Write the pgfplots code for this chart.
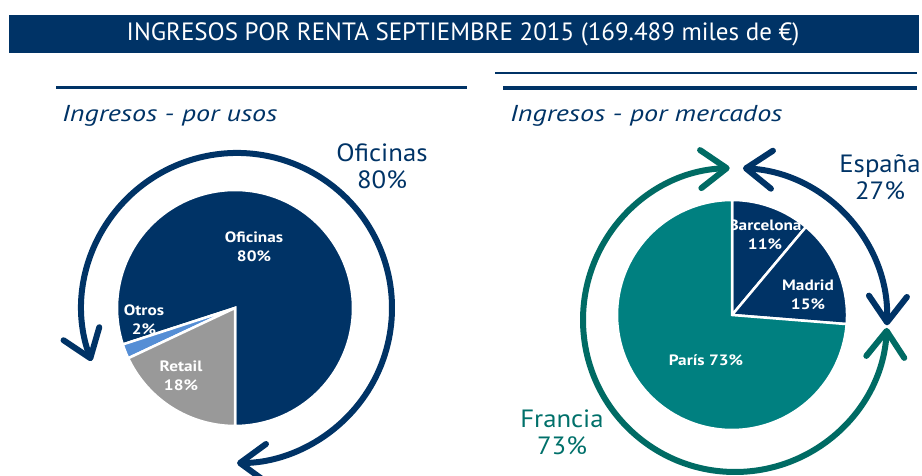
\documentclass[border=0pt]{standalone}
\usepackage{pgfplots}
\pgfplotsset{compat=1.18}
\usepackage{fontspec}
\setmainfont{PT Sans}
\newfontfamily\wide[FakeStretch=1.15]{PT Sans}
\newfontfamily\midfont[FakeStretch=1.07]{PT Sans}
\newfontfamily\wider[FakeStretch=1.22]{PT Sans}
\usetikzlibrary{arrows.meta}
\definecolor{navy}{RGB}{0,51,102}
\definecolor{tealpie}{RGB}{0,128,128}
\definecolor{tealarr}{RGB}{0,107,100}
\definecolor{tealtxt}{RGB}{0,112,106}
\definecolor{grayret}{RGB}{153,153,153}
\definecolor{otros}{RGB}{85,142,213}
\tikzset{barb/.tip={Straight Barb[length=26bp,width=38bp,line cap=round,line join=round]}}
\begin{document}
\begin{tikzpicture}[x=1bp,y=1bp]
\useasboundingbox (0,0) rectangle (922,476);
\begin{axis}[at={(0,0)}, anchor=south west, width=922bp, height=476bp,
  scale only axis, xmin=0, xmax=922, ymin=0, ymax=476, hide axis, clip=false]
% header
\fill[navy] (9,423) rectangle (919,461);
\node[white, font=\fontsize{25bp}{28bp}\selectfont] at (463,442) {INGRESOS POR RENTA SEPTIEMBRE 2015 (169.489 miles de €)};
% rules
\draw[navy, line width=3bp] (56,388) -- (467,388);
\draw[navy, line width=1.2bp] (495,403) -- (917,403);
\draw[navy, line width=3.5bp] (503,388) -- (917,388);
% subtitles
\node[navy, anchor=base west, inner sep=0pt, font=\wider\itshape\fontsize{23bp}{27bp}\selectfont] at (62,354) {Ingresos - por usos};
\node[navy, anchor=base west, inner sep=0pt, font=\wider\itshape\fontsize{23bp}{27bp}\selectfont] at (510,354) {Ingresos - por mercados};

% ---- left pie: Oficinas 80, Otros 2, Retail 18 (percent) ----
\addplot[fill=navy, draw=white, line width=2.5bp, domain={-90}:{-90+3.6*80}, samples=120, variable=\t]
  ({235+118*cos(\t)},{168+118*sin(\t)}) -- (235,168) -- cycle;
\addplot[fill=otros, draw=white, line width=2.5bp, domain={-90+3.6*80}:{-90+3.6*82}, samples=10, variable=\t]
  ({235+118*cos(\t)},{168+118*sin(\t)}) -- (235,168) -- cycle;
\addplot[fill=grayret, draw=white, line width=2.5bp, domain={-90+3.6*82}:{-90+3.6*100}, samples=40, variable=\t]
  ({235+118*cos(\t)},{168+118*sin(\t)}) -- (235,168) -- cycle;
\node[white, align=center, font=\wide\bfseries\fontsize{15bp}{19bp}\selectfont] at (254,229) {Oficinas\\80\%};
\node[white, align=center, font=\wide\bfseries\fontsize{15bp}{19bp}\selectfont] at (144,156) {Otros\\2\%};
\node[white, align=center, font=\wide\bfseries\fontsize{15bp}{19bp}\selectfont] at (181,100) {Retail\\18\%};
\draw[navy, line width=6bp, barb-barb] (237,168) ++(200:155) arc[start angle=200, end angle=-90, radius=155];
\node[navy, align=center, font=\midfont\fontsize{25bp}{27bp}\selectfont] at (382,310) {Oficinas\\80\%};

% ---- right pie: Barcelona 11, Madrid 15, Paris 73 (percent) ----
\addplot[fill=navy, draw=white, line width=2.5bp, domain={90-360*11/99}:{90}, samples=30, variable=\t]
  ({732+115*cos(\t)},{161+115*sin(\t)}) -- (732,161) -- cycle;
\addplot[fill=navy, draw=white, line width=2.5bp, domain={90-360*26/99}:{90-360*11/99}, samples=30, variable=\t]
  ({732+115*cos(\t)},{161+115*sin(\t)}) -- (732,161) -- cycle;
\node[white, align=center, font=\wide\bfseries\fontsize{15bp}{19bp}\selectfont] at (765,241) {Barcelona\\11\%};
\node[white, align=center, font=\wide\bfseries\fontsize{15bp}{19bp}\selectfont] at (808,181) {Madrid\\15\%};
\addplot[fill=tealpie, draw=white, line width=2.5bp, domain={-270}:{90-360*26/99}, samples=120, variable=\t]
  ({732+115*cos(\t)},{161+115*sin(\t)}) -- (732,161) -- cycle;
\node[white, font=\wide\bfseries\fontsize{15bp}{19bp}\selectfont] at (706,116) {París 73\%};
\draw[navy, line width=6bp, barb-barb] (735,156) ++(87:152) arc[start angle=87, end angle=-2, radius=152];
\draw[tealarr, line width=6bp, barb-barb] (735,156) ++(92:152) arc[start angle=92, end angle=357, radius=152];
\node[navy, align=center, font=\midfont\fontsize{25bp}{27bp}\selectfont] at (880,299) {España\\27\%};
\node[tealtxt, align=center, font=\midfont\fontsize{25bp}{27bp}\selectfont] at (562,44) {Francia\\73\%};
\end{axis}
\end{tikzpicture}
\end{document}
